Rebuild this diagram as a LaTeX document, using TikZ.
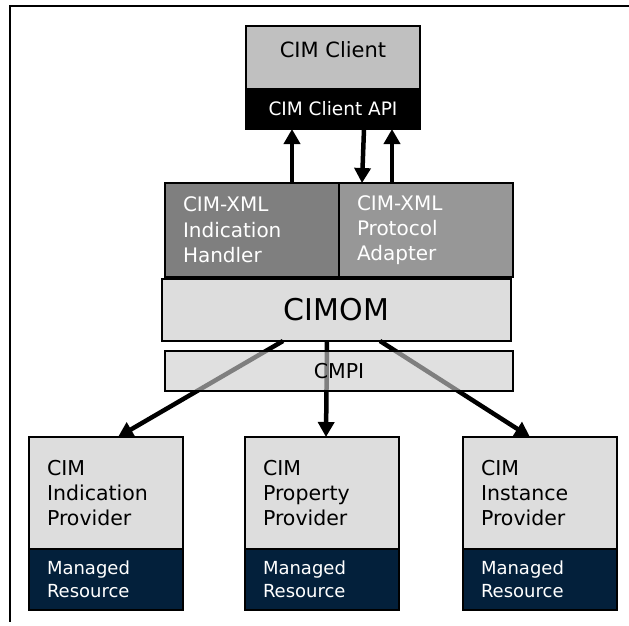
\documentclass[tikz,border=0pt]{standalone}
\usepackage{fontspec}
\setmainfont{DejaVu Sans}
\usepackage{tikz}
\usetikzlibrary{arrows.meta, positioning}
\definecolor{clientgray}{HTML}{C0C0C0}
\definecolor{handlergray}{HTML}{7F7F7F}
\definecolor{adaptergray}{HTML}{979797}
\definecolor{omgray}{HTML}{DDDDDD}
\definecolor{cmpigray}{HTML}{CDCDCD}
\definecolor{resnavy}{HTML}{03203B}
\tikzstyle{box}=[rectangle, draw=black, line width=2pt, outer sep=0pt, inner sep=0pt]
\tikzstyle{xmlbox}=[box, text=white, minimum width=174pt, minimum height=94pt, text width=138pt, inner xsep=18pt, align=left, font=\fontsize{20}{25.3}\selectfont]
\tikzstyle{provider}=[box, fill=omgray, minimum width=154pt, minimum height=112pt, text width=118pt, inner xsep=18pt, align=left, font=\fontsize{20.5}{25.3}\selectfont]
\tikzstyle{resource}=[box, fill=resnavy, text=white, minimum width=154pt, minimum height=61pt, text width=118pt, inner xsep=18pt, align=left, font=\fontsize{18}{22.7}\selectfont]
\tikzstyle{flow}=[-{Triangle[length=15pt, width=16pt]}, line width=4.5pt]

\begin{document}
\begin{tikzpicture}[x=1pt, y=-1pt]
  \useasboundingbox (0,0) rectangle (629,625);
  \draw[line width=2pt] (629,6) -- (10,6) -- (10,622);

  % client side
  \node[box, fill=clientgray, minimum width=174pt, minimum height=63pt, text depth=16pt, font=\fontsize{21}{25}\selectfont, anchor=north west] (client) at (246,26) {CIM Client};
  \node[box, fill=black, text=white, minimum width=174pt, minimum height=40pt, font=\fontsize{18.5}{22}\selectfont] (api) [below=0pt of client] {CIM Client API};

  % handler and adapter
  \node[xmlbox, fill=handlergray, anchor=north west] (handler) at (165,183) {CIM-XML\\Indication\\Handler};
  \node[xmlbox, fill=adaptergray] (adapter) [right=0pt of handler] {CIM-XML\\Protocol\\Adapter};
  \node[box, fill=omgray, minimum width=349pt, minimum height=62pt, font=\fontsize{30}{34}\selectfont, anchor=north west] (cimom) at (162,279) {CIMOM};

  % providers
  \node[provider, anchor=north west] (pind) at (29,437) {CIM\\Indication\\Provider};
  \node[resource] (rind) [below=0pt of pind] {Managed\\Resource};
  \node[provider, anchor=north west] (pprop) at (245,437) {CIM\\Property\\Provider};
  \node[resource] (rprop) [below=0pt of pprop] {Managed\\Resource};
  \node[provider, anchor=north west] (pinst) at (463,437) {CIM\\Instance\\Provider};
  \node[resource] (rinst) [below=0pt of pinst] {Managed\\Resource};

  \draw[flow] ([xshift=40pt]handler.north) -- ([xshift=40pt]handler.north |- api.south);
  \draw[flow] ([xshift=31pt]api.south) -- ([xshift=-64pt]adapter.north);
  \draw[flow] ([xshift=-34pt]adapter.north) -- ([xshift=-34pt]adapter.north |- api.south);

  \draw[flow] ([xshift=-53.5pt]cimom.south) -- ([xshift=12pt]pind.north);
  \draw[flow] ([xshift=-9.5pt]cimom.south) -- ([xshift=4pt]pprop.north);
  \draw[flow] ([xshift=43.5pt]cimom.south) -- ([xshift=-10pt]pinst.north);

  % cmpi lies over the arrows
  \node[box, fill=cmpigray, fill opacity=0.62, text opacity=1, minimum width=348pt, minimum height=40pt, font=\fontsize{20.5}{24}\selectfont, anchor=north west] (cmpi) at (165,351) {CMPI};
\end{tikzpicture}
\end{document}
